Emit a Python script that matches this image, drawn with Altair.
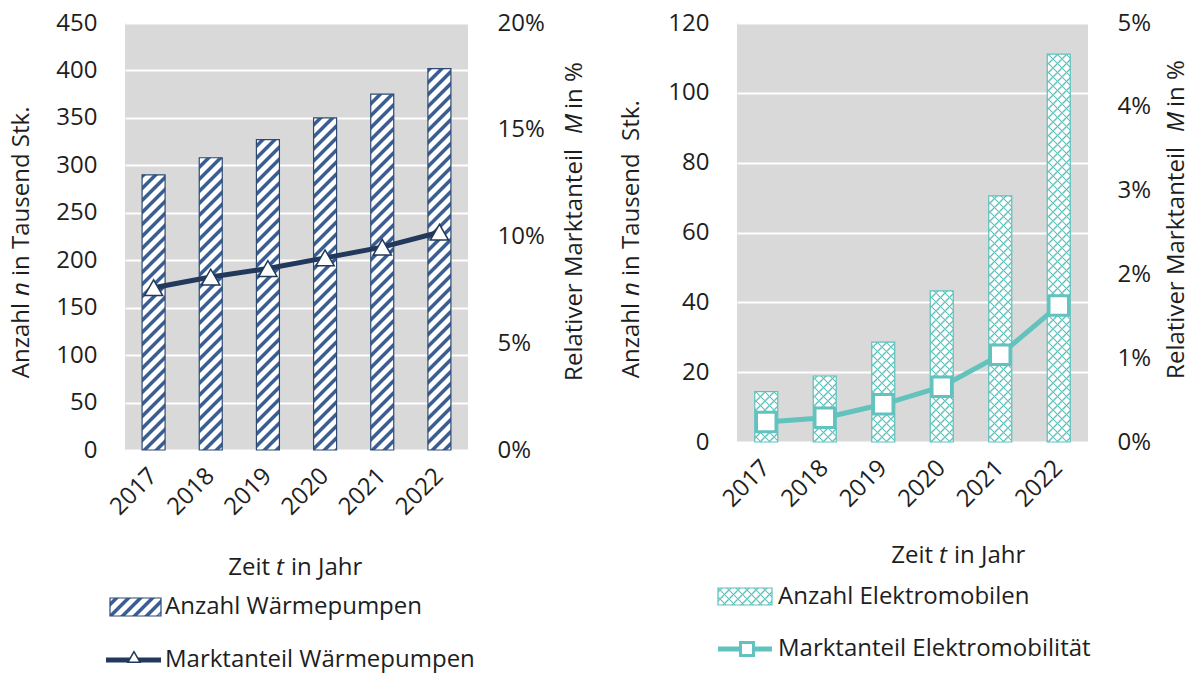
import math
import altair as alt
import pandas as pd

# ---- data -----------------------------------------------------------------
years = ["2017", "2018", "2019", "2020", "2021", "2022"]
hp_units = [290, 308, 327, 350, 375, 402]            # Wärmepumpen, Tausend Stk.
hp_share = [7.6, 8.1, 8.5, 9.0, 9.5, 10.2]           # Marktanteil in %
ev_units = [14.4, 18.9, 28.6, 43.3, 70.5, 111.1]     # Elektromobile, Tausend Stk.
ev_share = [0.24, 0.29, 0.45, 0.66, 1.04, 1.63]      # Marktanteil in %

FONT = "Open Sans"
FS = 24
TXT = "#1e1e1e"

HP_INK = "#3A5E94"
HP_EDGE = "#2C4A74"
HP_LINE = "#22395C"
EV_INK = "#5EC1BC"
EV_LINE = "#62C2BD"
CLEAR = "rgba(255,255,255,0)"


def stripes(w, h, period, ink_w, ink, paper, direction, off=0.0, soft=0.35):
    """Linear gradient that paints 45° stripes on a w x h pixel box."""
    S = w + h
    c = S / (w * w + h * h)
    dx, dy = w * c, h * c
    if direction == "/":
        x1, y1, x2, y2 = 0, 0, dx, dy
    else:
        x1, y1, x2, y2 = 0, 1, dx, 1 - dy

    def col(s):
        return ink if (s + off) % period < ink_w else paper

    kmin = math.floor(off / period) - 2
    kmax = math.ceil((S + off) / period) + 2
    edges = sorted(
        e
        for k in range(kmin, kmax)
        for e in (k * period - off, k * period + ink_w - off)
        if 0 < e < S
    )
    stops = [alt.GradientStop(offset=0, color=col(0))]
    last = 0.0
    for e in edges:
        a = max(last, (e - soft) / S)
        b = min(1.0, (e + soft) / S)
        stops.append(alt.GradientStop(offset=round(a, 5), color=col(e - 1e-6)))
        stops.append(alt.GradientStop(offset=round(b, 5), color=col(e + 1e-6)))
        last = b
    stops.append(alt.GradientStop(offset=1, color=col(S)))
    return alt.LinearGradient(gradient="linear", stops=stops,
                              x1=x1, y1=y1, x2=round(x2, 5), y2=round(y2, 5))


def text(txt, x, y, angle=0, align="left", italic=False):
    return alt.Chart(pd.DataFrame({"t": [txt]})).mark_text(
        align=align, baseline="middle", angle=angle, font=FONT, fontSize=FS,
        fontStyle="italic" if italic else "normal", color=TXT,
    ).encode(x=alt.value(x), y=alt.value(y), text="t:N")


def one_row():
    return alt.Chart(pd.DataFrame({"k": [0]}))


def panel(units, share, W, H, umax, ustep, pmax, pstep, hatch, bar_w, edge,
          line_color, shape, msize, mstroke, titles, legend):
    df = pd.DataFrame({"Jahr": years, "Anzahl": units, "Anteil": share})
    base = alt.Chart(df)
    step = W / len(years)

    x = alt.X(
        "Jahr:O", title=None,
        scale=alt.Scale(domain=years, paddingInner=0, paddingOuter=0),
        axis=alt.Axis(labelAngle=-45, labelAlign="right", labelBaseline="middle",
                      labelPadding=22, ticks=False, domain=False, grid=False,
                      labelFont=FONT, labelFontSize=FS, labelColor=TXT),
    )
    y_units = alt.Y(
        "Anzahl:Q", title=None,
        scale=alt.Scale(domain=[0, umax], nice=False, zero=True),
        axis=alt.Axis(orient="left", values=list(range(0, umax + 1, ustep)),
                      grid=True, gridColor="white", gridWidth=2, ticks=False,
                      domain=False, labelPadding=28, labelFont=FONT,
                      labelFontSize=FS, labelColor=TXT),
    )
    y_share = alt.Y(
        "Anteil:Q", title=None,
        scale=alt.Scale(domain=[0, pmax], nice=False, zero=True),
        axis=alt.Axis(orient="right",
                      values=[round(i * pstep, 4) for i in range(int(round(pmax / pstep)) + 1)],
                      labelExpr="datum.value + '%'", grid=False, ticks=False,
                      domain=False, labelPadding=29, labelFont=FONT,
                      labelFontSize=FS, labelColor=TXT),
    )

    # bars, each with its own hatch gradient sized to the bar
    bars = []
    for i, (yr, v) in enumerate(zip(years, units)):
        h = v / umax * H
        x0 = i * step + step / 2 - bar_w / 2
        y0 = H - h
        for j, (direction, period, ink_w, ink, paper) in enumerate(hatch):
            off = x0 + y0 if direction == "/" else x0 - y0 - h
            grad = stripes(bar_w, h, period, ink_w, ink, paper, direction, off)
            last = j == len(hatch) - 1
            bars.append(
                base.mark_bar(fill=grad, size=bar_w, stroke=edge,
                              strokeWidth=1.2, strokeOpacity=1 if last else 0)
                .encode(x=x, y=y_units)
                .transform_filter(alt.datum.Jahr == yr)
            )

    line = base.mark_line(color=line_color, strokeWidth=5).encode(x=x, y=y_share)
    pts = base.mark_point(shape=shape, filled=True, fill="white", stroke=line_color,
                          strokeWidth=mstroke, size=msize, opacity=1).encode(x=x, y=y_share)

    # axis titles (pieces so the symbol can be italic)
    deco = []
    (lx, l_a, l_n, l_b, l_rest), (rx, r_a, r_m, r_b), (tx_a, tx_t, tx_b, tx_y) = titles
    deco += [
        text("Anzahl", lx, l_a, 270, "right"),
        text("n", lx, l_n, 270, "center", italic=True),
        text(l_rest, lx, l_b, 270, "left"),
        text("Relativer Marktanteil", rx, r_a, 270, "right"),
        text("M", rx, r_m, 270, "center", italic=True),
        text("in %", rx, r_b, 270, "left"),
        text("Zeit", tx_a, tx_y, 0, "right"),
        text("t", tx_t, tx_y, 0, "center", italic=True),
        text("in Jahr", tx_b, tx_y, 0, "left"),
    ]

    # legend
    (rx0, rx1, ry0, ry1, bar_label), (lx0, lx1, ly, mx, my, msz, line_label), tx = legend
    for j, (direction, period, ink_w, ink, paper) in enumerate(hatch):
        lw, lh = rx1 - rx0, ry1 - ry0
        off = rx0 + ry0 if direction == "/" else rx0 - ry0 - lh
        grad = stripes(lw, lh, period, ink_w, ink, paper, direction, off)
        last = j == len(hatch) - 1
        deco.append(one_row().mark_rect(fill=grad, stroke=edge, strokeWidth=1.2,
                                        strokeOpacity=1 if last else 0)
                    .encode(x=alt.value(rx0), x2=alt.value(rx1),
                            y=alt.value(ry0), y2=alt.value(ry1)))
    deco.append(text(bar_label, tx, (ry0 + ry1) / 2))
    deco.append(one_row().mark_rule(color=line_color, strokeWidth=5)
                .encode(x=alt.value(lx0), x2=alt.value(lx1), y=alt.value(ly)))
    deco.append(one_row().mark_point(shape=shape, filled=True, fill="white",
                                     stroke=line_color, strokeWidth=mstroke,
                                     size=msz, opacity=1)
                .encode(x=alt.value(mx), y=alt.value(my)))
    deco.append(text(line_label, tx, ly))

    return (
        alt.layer(alt.layer(*bars), alt.layer(line, pts), *deco)
        .resolve_scale(y="independent")
        .properties(width=W, height=H)
    )


left = panel(
    hp_units, hp_share, W=343, H=427, umax=450, ustep=50, pmax=20, pstep=5,
    hatch=[("/", 12, 5.0, HP_INK, "white")], bar_w=23, edge=HP_EDGE,
    line_color=HP_LINE, shape="triangle-up", msize=330, mstroke=1.5,
    titles=((-103, 280, 266, 253, "in Tausend Stk."),
            (450, 126, 101, 86),
            (145, 155, 166, 545)),
    legend=((-15, 36, 575, 593, "Anzahl Wärmepumpen"),
            (-19, 36, 637, 9, 634, 150, "Marktanteil Wärmepumpen"), 40),
)

right = panel(
    ev_units, ev_share, W=351, H=419, umax=120, ustep=20, pmax=5, pstep=1,
    hatch=[("/", 9, 2.0, EV_INK, "white"), ("\\", 9, 2.0, EV_INK, CLEAR)],
    bar_w=23, edge=EV_INK,
    line_color=EV_LINE, shape="square", msize=380, mstroke=3,
    titles=((-105, 280, 266, 253, "in Tausend\u00a0 Stk."),
            (440, 124, 99, 84),
            (196, 206, 217, 533)),
    legend=((-19, 35, 565, 582, "Anzahl Elektromobilen"),
            (-19, 35, 626, 10, 626, 170, "Marktanteil Elektromobilität"), 41),
)

chart = (
    alt.hconcat(left, right, spacing=33)
    .properties(padding={"left": 10, "top": 11, "right": 5, "bottom": 5},
                background="white")
    .configure_view(fill="#D9D9D9", stroke=None)
)

chart.save("out.html", embed_options={"renderer": "svg", "actions": False})
